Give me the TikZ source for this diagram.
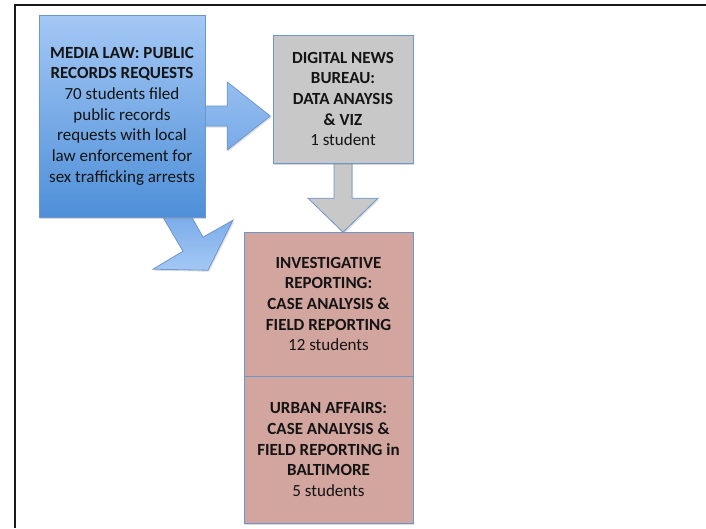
\documentclass[tikz,border=0pt]{standalone}
\usepackage{fontspec}
\setmainfont{Carlito}
\usetikzlibrary{calc,shadows}
\definecolor{boxedge}{RGB}{110,150,205}
\definecolor{blueTop}{RGB}{164,200,245}
\definecolor{blueBot}{RGB}{78,143,216}
\definecolor{arrTop}{RGB}{150,190,240}
\definecolor{arrBot}{RGB}{120,170,232}
\definecolor{grayfill}{RGB}{200,200,200}
\definecolor{pinkfill}{RGB}{210,165,158}
\definecolor{txt}{RGB}{20,20,20}
\begin{document}
\begin{tikzpicture}[x=1pt,y=-1pt,
  font=\fontsize{17}{20.7}\selectfont,
  boxstyle/.style={draw=boxedge, line width=0.8pt, inner sep=0pt, align=center,
    text=txt, drop shadow={shadow xshift=1.2pt, shadow yshift=-1.5pt, opacity=0.3}},
  blockarrow/.style={draw=boxedge, line width=0.8pt, line join=miter,
    drop shadow={shadow xshift=1.2pt, shadow yshift=-1.5pt, opacity=0.25}},
  framestyle/.style={draw=black!90, line width=2pt}
]
\useasboundingbox (0,0) rectangle (706,528);
\draw[framestyle] (706,5) -- (15,5) -- (15,528);

% coordinates of box centres
\coordinate (cmedia) at (122,116);
\coordinate (cgray) at (343,99);

% nodes placed first (invisible) to get anchors
\path (cmedia) node[minimum width=166pt, minimum height=202pt, inner sep=0pt] (mediaA) {};
\path (cgray) node[minimum width=140pt, minimum height=128pt, inner sep=0pt] (grayA) {};

% block arrows (behind boxes)
\path[blockarrow, top color=arrTop, bottom color=arrBot]
  ($(mediaA.east)+(-5,-10)$) -- ($(mediaA.east)+(22,-10)$) -- ($(mediaA.east)+(22,-34)$)
  -- ($(mediaA.east)+(65,0)$) -- ($(mediaA.east)+(22,34)$) -- ($(mediaA.east)+(22,10)$)
  -- ($(mediaA.east)+(-5,10)$) -- cycle;
\path[blockarrow, top color=arrBot, bottom color=blueTop]
  ($(mediaA.south)+(38,-5)$) -- ($(mediaA.south)+(61,34)$) -- ($(mediaA.south)+(31,52)$)
  -- ($(mediaA.south)+(86,53)$) -- ($(mediaA.south)+(111,3)$) -- ($(mediaA.south)+(81,20)$)
  -- ($(mediaA.south)+(67,-5)$) -- cycle;
\path[blockarrow, fill=grayfill]
  ($(grayA.south)+(-9,-3)$) -- ($(grayA.south)+(-9,35)$) -- ($(grayA.south)+(-35,35)$)
  -- ($(grayA.south)+(0,69)$) -- ($(grayA.south)+(35,35)$) -- ($(grayA.south)+(9,35)$)
  -- ($(grayA.south)+(9,-3)$) -- cycle;

% boxes
\node[boxstyle, minimum width=166pt, minimum height=202pt, top color=blueTop, bottom color=blueBot]
  (media) at (cmedia) {\textbf{MEDIA LAW: PUBLIC}\\\textbf{RECORDS REQUESTS}\\70 students filed\\public records\\requests with local\\law enforcement for\\sex trafficking arrests};
\node[boxstyle, minimum width=140pt, minimum height=128pt, fill=grayfill]
  (digital) at (cgray) {\textbf{DIGITAL NEWS}\\\textbf{BUREAU:}\\\textbf{DATA ANAYSIS}\\\textbf{\& VIZ}\\1 student};
\node[boxstyle, minimum width=169pt, minimum height=144pt, fill=pinkfill]
  (invest) at (328.5,304) {\textbf{INVESTIGATIVE}\\\textbf{REPORTING:}\\\textbf{CASE ANALYSIS \&}\\\textbf{FIELD REPORTING}\\12 students};
\node[boxstyle, minimum width=169pt, minimum height=147pt, fill=pinkfill]
  (urban) at (328.5,449.5) {\textbf{URBAN AFFAIRS:}\\\textbf{CASE ANALYSIS \&}\\\textbf{FIELD REPORTING in}\\\textbf{BALTIMORE}\\5 students};
\end{tikzpicture}
\end{document}
